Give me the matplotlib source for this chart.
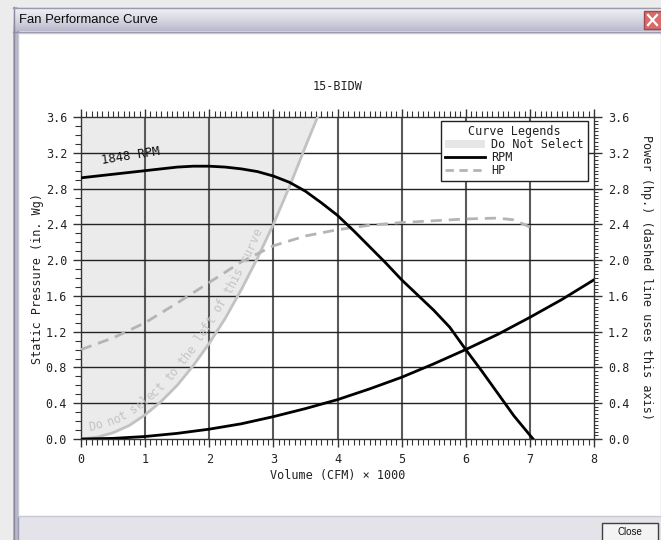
import numpy as np
import matplotlib
matplotlib.use("Agg")
import matplotlib.pyplot as plt
from matplotlib.patches import Rectangle, Patch
from matplotlib.lines import Line2D
from matplotlib.colors import LinearSegmentedColormap

# ---------------- data ----------------
chart_title = "15-BIDW"
window_title = "Fan Performance Curve"
x_label = "Volume (CFM) \u00d7 1000"
y_label_left = "Static Pressure (in. Wg)"
y_label_right = "Power (hp.) (dashed line uses this axis)"
x_ticks = [0, 1, 2, 3, 4, 5, 6, 7, 8]
y_ticks = [0.0, 0.4, 0.8, 1.2, 1.6, 2.0, 2.4, 2.8, 3.2, 3.6]
rpm_label = "1848 RPM"
limit_text = "Do not select to the left of this curve"
legend_title = "Curve Legends"
legend_labels = ["Do Not Select", "RPM", "HP"]

# fan curve (static pressure vs volume)
rpm_x = [0, 0.25, 0.5, 0.75, 1.0, 1.25, 1.5, 1.75, 2.0, 2.25, 2.5, 2.75, 3.0,
         3.25, 3.5, 3.75, 4.0, 4.25, 4.5, 4.75, 5.0, 5.25, 5.5, 5.75, 6.0,
         6.25, 6.5, 6.75, 7.05]
rpm_y = [2.92, 2.94, 2.96, 2.98, 3.00, 3.02, 3.04, 3.05, 3.05, 3.04, 3.02, 2.99,
         2.94, 2.87, 2.77, 2.64, 2.50, 2.33, 2.15, 1.97, 1.78, 1.61, 1.44, 1.25,
         1.00, 0.76, 0.51, 0.26, 0.0]

# horsepower curve (right axis)
hp_x = [0, 0.5, 1.0, 1.5, 2.0, 2.5, 3.0, 3.5, 4.0, 4.5, 5.0, 5.5, 6.0, 6.5, 6.75, 7.0]
hp_y = [1.00, 1.13, 1.30, 1.52, 1.75, 1.98, 2.16, 2.27, 2.34, 2.39, 2.42, 2.44,
        2.46, 2.47, 2.45, 2.37]

# system curve
sys_x = [0, 0.5, 1.0, 1.5, 2.0, 2.5, 3.0, 3.5, 4.0, 4.5, 5.0, 5.5, 6.0, 6.5, 7.0, 7.5, 8.0]
sys_y = [0.0, 0.007, 0.028, 0.063, 0.11, 0.17, 0.25, 0.34, 0.44, 0.56, 0.69, 0.84,
         1.00, 1.17, 1.36, 1.56, 1.78]

# do-not-select boundary
lim_x = [0, 0.25, 0.5, 0.75, 1.0, 1.25, 1.5, 1.75, 2.0, 2.25, 2.5, 2.75, 3.0, 3.25, 3.5, 3.7]
lim_y = [0, 0.02, 0.07, 0.15, 0.27, 0.42, 0.60, 0.82, 1.07, 1.35, 1.67, 2.02, 2.40,
         2.82, 3.27, 3.62]

# ---------------- figure ----------------
W, H = 661, 540
fig = plt.figure(figsize=(W / 100, H / 100), dpi=100)
fig.patch.set_facecolor("#ececec")

bg = fig.add_axes([0, 0, 1, 1])
bg.set_xlim(0, W)
bg.set_ylim(H, 0)
bg.axis("off")
bg.set_zorder(-5)

# window frame
bg.add_patch(Rectangle((13, 7), W - 13, H - 7, facecolor="#e3e3e9", edgecolor="none"))
bg.add_patch(Rectangle((13, 7), 5, H - 7, facecolor="#b8b8cc", edgecolor="none"))
bg.plot([13.5, 13.5], [7, H], color="#8a8aa0", lw=1)
bg.plot([17.5, 17.5], [31, H], color="#9a9ab0", lw=1)
# title bar gradient
grad = np.linspace(0, 1, 50).reshape(-1, 1)
cmap = LinearSegmentedColormap.from_list("tb", ["#f0f0f5", "#d8d8e4", "#b9b9cd"])
bg.imshow(grad, extent=(13, W, 31, 8), aspect="auto", cmap=cmap, zorder=1)
bg.plot([13, W], [7.5, 7.5], color="#9a9aae", lw=1, zorder=2)
bg.plot([13, W], [31.5, 31.5], color="#9090a8", lw=1, zorder=2)
bg.text(19, 20, window_title, fontsize=9.4, family="Liberation Sans",
        color="#0a0a0a", va="center", ha="left", zorder=3)
# close X button
bg.add_patch(Rectangle((644, 11), 18, 18, facecolor="#d86c6c", edgecolor="#a04848",
                       lw=1, zorder=3))
bg.plot([648, 657], [15, 25], color="white", lw=1.6, zorder=4)
bg.plot([648, 657], [25, 15], color="white", lw=1.6, zorder=4)
# content panel
bg.add_patch(Rectangle((18, 33), W - 18, 483, facecolor="white", edgecolor="#c8c8d0",
                       lw=1, zorder=2))
# close button
bg.add_patch(Rectangle((602, 523), 56, 18, facecolor="#f3f3f3", edgecolor="#404040",
                       lw=1, zorder=3))
bg.text(630, 532, "Close", fontsize=7, family="Liberation Sans", ha="center",
        va="center", color="#111111", zorder=4)

# ---------------- chart ----------------
mono = "DejaVu Sans Mono"
ax = fig.add_axes([81 / W, 1 - 439 / H, 513 / W, 322 / H])
ax.set_zorder(1)
ax.set_facecolor("white")
ax.set_xlim(0, 8)
ax.set_ylim(0, 3.6)

ax.fill_between(lim_x, lim_y, 3.6, color="#ebebeb", lw=0, zorder=1)

for xv in x_ticks[1:-1]:
    ax.axvline(xv, color="#5a5a5a", lw=1.5, zorder=2)
for yv in y_ticks[1:-1]:
    ax.axhline(yv, color="#222222", lw=1.0, zorder=2)

ax.plot(lim_x, lim_y, color="#c2c2c2", lw=2, zorder=3)
ax.plot(hp_x, hp_y, color="#b4b4b4", lw=2, ls=(0, (4, 2.5)), zorder=4)
ax.plot(sys_x, sys_y, color="black", lw=2, zorder=5)
ax.plot(rpm_x, rpm_y, color="black", lw=2, zorder=5)

ax.text(0.78, 3.16, rpm_label, family=mono, fontsize=8.8, rotation=9,
        ha="center", va="center", color="#111111", zorder=6)

# ticks
ax.set_xticks(x_ticks)
ax.set_xticklabels([str(v) for v in x_ticks], family=mono, fontsize=8.5)
ax.set_xticks(np.arange(0, 8.0001, 1 / 12), minor=True)
ax.set_yticks(y_ticks)
ax.set_yticklabels([f"{v:.1f}" for v in y_ticks], family=mono, fontsize=8.5)
ax.set_yticks(np.arange(0, 3.6001, 0.1), minor=True)
ax.tick_params(axis="both", which="major", direction="out", length=6, width=1,
               color="#333333", labelcolor="#222222")
ax.tick_params(axis="both", which="minor", direction="out", length=4, width=0.8,
               color="#333333")
ax.tick_params(axis="x", which="both", top=True, pad=4)
ax.tick_params(axis="y", which="both", left=True, right=False, pad=4)
for sp in ax.spines.values():
    sp.set_color("#333333")
    sp.set_linewidth(1)

ax.set_xlabel(x_label, family=mono, fontsize=8.5, color="#222222", labelpad=2)
ax.set_ylabel(y_label_left, family=mono, fontsize=8.5, color="#222222", labelpad=1)

ax2 = ax.twinx()
ax2.set_ylim(0, 3.6)
ax2.set_yticks(y_ticks)
ax2.set_yticklabels([f"{v:.1f}" for v in y_ticks], family=mono, fontsize=8.5)
ax2.set_yticks(np.arange(0, 3.6001, 0.04), minor=True)
ax2.tick_params(axis="y", which="major", direction="out", length=6, width=1,
                color="#333333", labelcolor="#222222", pad=4)
ax2.tick_params(axis="y", which="minor", direction="out", length=3, width=0.7,
                color="#333333")
ax2.set_ylabel(y_label_right, family=mono, fontsize=8.5, color="#222222",
               rotation=-90, labelpad=17)
for sp in ax2.spines.values():
    sp.set_visible(False)

# legend
handles = [Patch(facecolor="#e6e6e6", edgecolor="none"),
           Line2D([], [], color="black", lw=2),
           Line2D([], [], color="#b4b4b4", lw=2, ls=(0, (3, 2)))]
leg = ax2.legend(handles, legend_labels, title=legend_title, loc="upper right",
                 bbox_to_anchor=(0.988, 0.988), borderaxespad=0,
                 prop={"family": mono, "size": 8.5},
                 title_fontproperties={"family": mono, "size": 8.5},
                 frameon=True, fancybox=False, edgecolor="#222222", framealpha=1,
                 handlelength=3.4, handleheight=0.7, labelspacing=0.0,
                 borderpad=0.35, handletextpad=0.5)
leg.get_frame().set_linewidth(1)
leg.get_title().set_color("#222222")
for t in leg.get_texts():
    t.set_color("#222222")

# curved warning text along the boundary
pts = ax.transData.transform(np.column_stack([lim_x, lim_y]))
seg = np.diff(pts, axis=0)
seglen = np.hypot(seg[:, 0], seg[:, 1])
cum = np.concatenate([[0], np.cumsum(seglen)])
offset = 11.0


def point_at(s):
    i = int(np.clip(np.searchsorted(cum, s) - 1, 0, len(seg) - 1))
    f = (s - cum[i]) / seglen[i]
    p = pts[i] + f * seg[i]
    t0 = seg[max(i - 1, 0)] / seglen[max(i - 1, 0)]
    t1 = seg[i] / seglen[i]
    t2 = seg[min(i + 1, len(seg) - 1)] / seglen[min(i + 1, len(seg) - 1)]
    t = (1 - f) * (t0 + t1) / 2 + f * (t1 + t2) / 2
    t = t / np.hypot(*t)
    n = np.array([-t[1], t[0]])
    return p + offset * n, np.degrees(np.arctan2(t[1], t[0]))


start_x_disp = ax.transData.transform((0.0, 0))[0]
s = 0.0
while point_at(s)[0][0] < start_x_disp + 8:
    s += 0.5
step = 7.2
inv = fig.transFigure.inverted()
for ch in limit_text:
    p, ang = point_at(s + step / 2)
    fp = inv.transform(p)
    fig.text(fp[0], fp[1], ch, family=mono, fontsize=8.6, color="#c4c4c4",
             rotation=ang, rotation_mode="anchor", ha="center", va="center",
             zorder=3)
    s += step

fig.text(338 / W, 1 - 87 / H, chart_title, family=mono, fontsize=8.5,
         ha="center", va="center", color="#222222")

fig.savefig("out.png", dpi=100, facecolor=fig.get_facecolor())
